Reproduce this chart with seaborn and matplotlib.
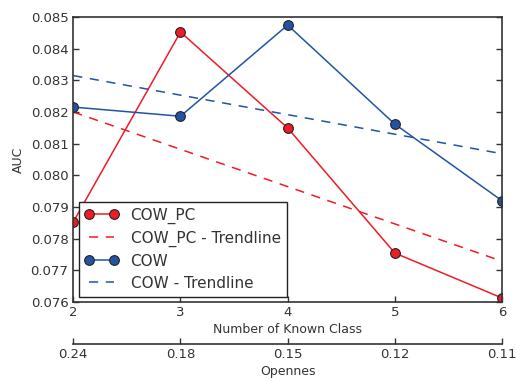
import numpy as np
import pandas as pd
import seaborn as sns
import matplotlib.pyplot as plt

known_class = [2, 3, 4, 5, 6]
openness = ['0.24', '0.18', '0.15', '0.12', '0.11']
cow_pc = [0.07853, 0.08453, 0.08150, 0.07755, 0.07613]
cow = [0.08216, 0.08187, 0.08475, 0.08162, 0.07920]

red = '#ee1c25'
blue = '#2253a5'

sns.set_style("ticks")
plt.rcParams['font.family'] = ['DejaVu Sans']
plt.rcParams['text.color'] = '#333333'
plt.rcParams['axes.labelcolor'] = '#333333'
plt.rcParams['xtick.color'] = '#333333'
plt.rcParams['ytick.color'] = '#333333'
plt.rcParams['axes.edgecolor'] = '#333333'

df = pd.DataFrame({'k': known_class, 'COW_PC': cow_pc, 'COW': cow})

fig, ax = plt.subplots(figsize=(5.16, 3.81), dpi=100)
fig.subplots_adjust(left=0.142, right=0.973, top=0.955, bottom=0.207)

for name, col in [('COW_PC', red), ('COW', blue)]:
    sns.lineplot(data=df, x='k', y=name, ax=ax, color=col, lw=1.1, marker='o',
                 markersize=7, markeredgecolor='#222222', markeredgewidth=0.8,
                 label=name)
    fit = np.polyfit(df['k'], df[name], 1)
    ax.plot(df['k'], np.polyval(fit, df['k']), '--', color=col, lw=1.1,
            dashes=(6, 5), label=name + ' - Trendline')

ax.set_xlim(2, 6)
ax.set_ylim(0.076, 0.085)
ax.set_xticks(known_class)
ax.set_yticks(np.arange(0.076, 0.0851, 0.001))
ax.yaxis.set_major_formatter(plt.FormatStrFormatter('%.3f'))
ax.tick_params(axis='both', labelsize=9.5, length=4, width=1, direction='in')
ax.tick_params(axis='y', right=True)
ax.tick_params(axis='x', pad=3)
ax.set_xlabel('Number of Known Class', fontsize=9, labelpad=3)
ax.set_ylabel('AUC', fontsize=9)
for s in ax.spines.values():
    s.set_linewidth(1.2)

leg = ax.legend(loc='lower left', numpoints=2, fontsize=11, frameon=True,
                fancybox=False, borderaxespad=0.35, handlelength=2.2,
                borderpad=0.4, labelspacing=0.45)
leg.get_frame().set_edgecolor('#222222')
leg.get_frame().set_linewidth(1.0)
leg.get_frame().set_alpha(1)

ax2 = ax.twiny()
ax2.set_xlim(ax.get_xlim())
ax2.set_xticks(known_class)
ax2.set_xticklabels(openness)
ax2.xaxis.set_ticks_position('bottom')
ax2.xaxis.set_label_position('bottom')
ax2.spines['bottom'].set_position(('outward', 30))
for side in ['top', 'left', 'right']:
    ax2.spines[side].set_visible(False)
ax2.spines['bottom'].set_linewidth(1.2)
ax2.tick_params(axis='x', labelsize=9.5, length=4, width=1, direction='in', pad=3)
ax2.set_xlabel('Opennes', fontsize=9, labelpad=3)

fig.savefig('out.png', dpi=100)
